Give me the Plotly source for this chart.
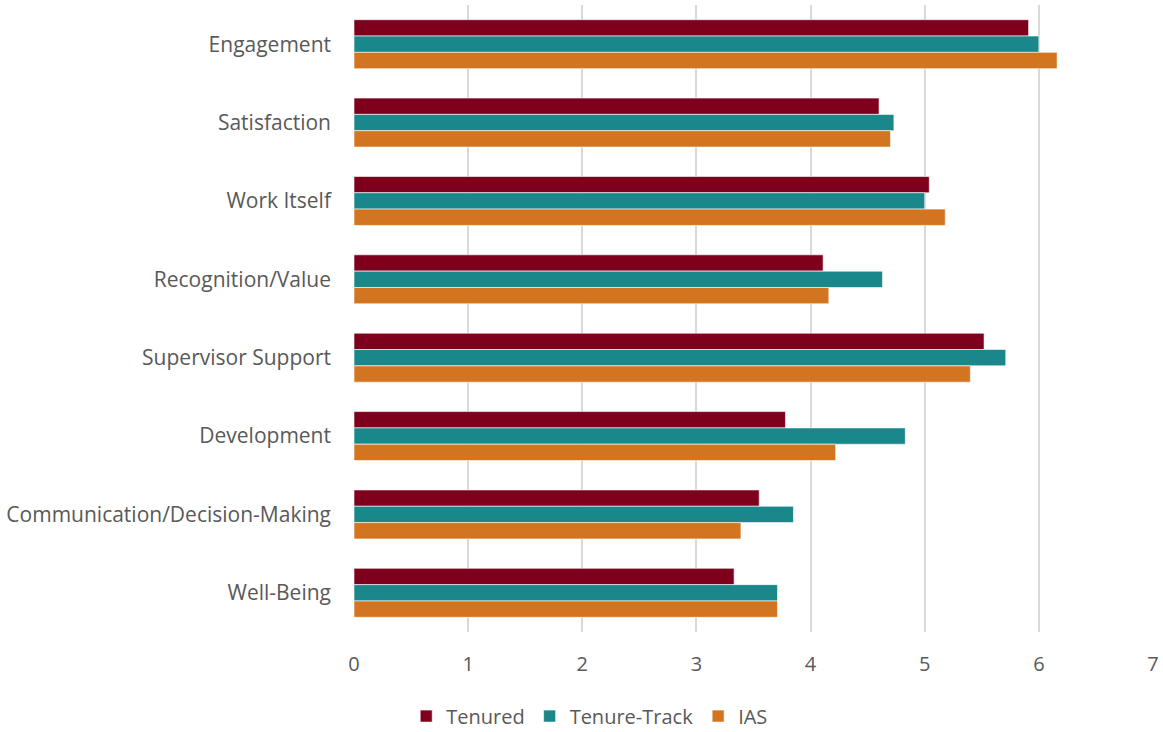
import plotly.graph_objects as go

categories = ["Engagement", "Satisfaction", "Work Itself", "Recognition/Value",
              "Supervisor Support", "Development", "Communication/Decision-Making", "Well-Being"]
tenured = [5.91, 4.60, 5.04, 4.11, 5.52, 3.78, 3.55, 3.33]
tenure_track = [6.00, 4.73, 5.00, 4.63, 5.71, 4.83, 3.85, 3.71]
ias = [6.16, 4.70, 5.18, 4.16, 5.40, 4.22, 3.39, 3.71]
x_ticks = [0, 1, 2, 3, 4, 5, 6, 7]

series = [("Tenured", tenured, "#7F001C"),
          ("Tenure-Track", tenure_track, "#1A878A"),
          ("IAS", ias, "#D37520")]

fig = go.Figure()
for name, vals, color in series:
    fig.add_trace(go.Bar(y=categories, x=vals, name=name, orientation="h",
                         marker=dict(color=color, line=dict(color="white", width=0.6))))

fig.update_layout(
    width=1163, height=732,
    barmode="group", bargap=0.375, bargroupgap=0,
    plot_bgcolor="white", paper_bgcolor="white",
    margin=dict(l=354, r=10, t=5, b=100, autoexpand=False),
    font=dict(family="Open Sans", color="#595959", size=20),
    legend=dict(orientation="h", x=0.295, xanchor="center", y=-0.103, yanchor="top",
                font=dict(size=20, color="#595959"), traceorder="normal",
                itemwidth=30),
    xaxis=dict(range=[0, 7], tickvals=x_ticks, showgrid=True, gridcolor="#D9D9D9",
               gridwidth=1.5, zeroline=False, showline=False, ticks="",
               automargin=False, ticklabelstandoff=18,
               tickfont=dict(size=20, color="#595959")),
    yaxis=dict(autorange="reversed", showgrid=False, showline=False, ticks="",
               automargin=False, ticklabelstandoff=22,
               tickfont=dict(size=21, color="#595959")),
)
fig.write_html(
    "out.html",
    config={"displayModeBar": False},
    post_script="document.documentElement.style.margin='0';"
                "document.body.style.margin='0';"
                "document.body.style.overflow='hidden';",
)
